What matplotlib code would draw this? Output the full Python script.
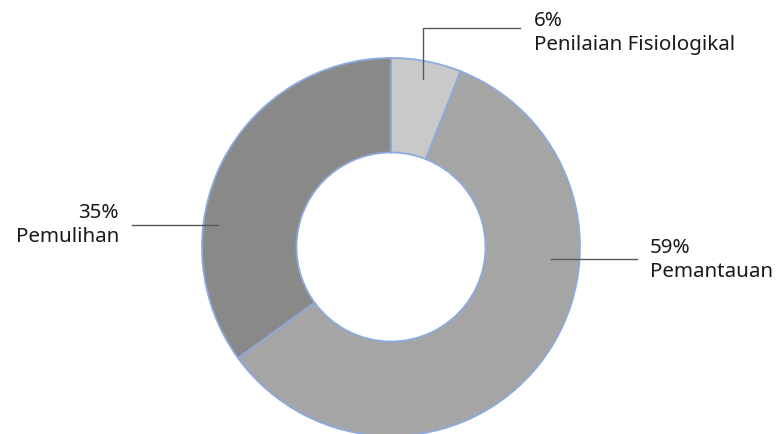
import matplotlib.pyplot as plt

# data
labels = ['Penilaian Fisiologikal', 'Pemantauan', 'Pemulihan']
values = [6, 59, 35]
colors = ['#c9c9c9', '#a5a5a5', '#898989']

W, H = 779, 435
plt.rcParams['font.family'] = ['Noto Sans', 'DejaVu Sans']

fig = plt.figure(figsize=(W / 100, H / 100), dpi=100)
ax = fig.add_axes([0, 0, 1, 1])


def py(y):
    # image pixel row -> data y
    return H - y


cx, cy, R = 391, py(248), 189
ax.pie(values, colors=colors, startangle=90, counterclock=False,
       center=(cx, cy), radius=R, frame=True,
       wedgeprops=dict(width=R * 0.5, edgecolor='#8eaadc', linewidth=1.3))

ax.set_xlim(0, W)
ax.set_ylim(0, H)
ax.set_aspect('equal')
ax.axis('off')

pct = [f'{v}%' for v in values]
line_kw = dict(color='#595959', linewidth=1)
text_kw = dict(fontsize=14.8, color='#1a1a1a', linespacing=1.3)

# Penilaian Fisiologikal
ax.plot([423, 423, 520], [py(80), py(29), py(29)], **line_kw)
ax.text(534, py(33), f'{pct[0]}\n{labels[0]}', ha='left', va='center', **text_kw)

# Pemantauan
ax.plot([551, 637], [py(260), py(260)], **line_kw)
ax.text(650, py(260), f'{pct[1]}\n{labels[1]}', ha='left', va='center', **text_kw)

# Pemulihan
ax.plot([132, 218], [py(226), py(226)], **line_kw)
ax.text(119, py(225), f'{pct[2]}\n{labels[2]}', ha='right', va='center',
        multialignment='right', **text_kw)

fig.savefig('out.png', dpi=100)
